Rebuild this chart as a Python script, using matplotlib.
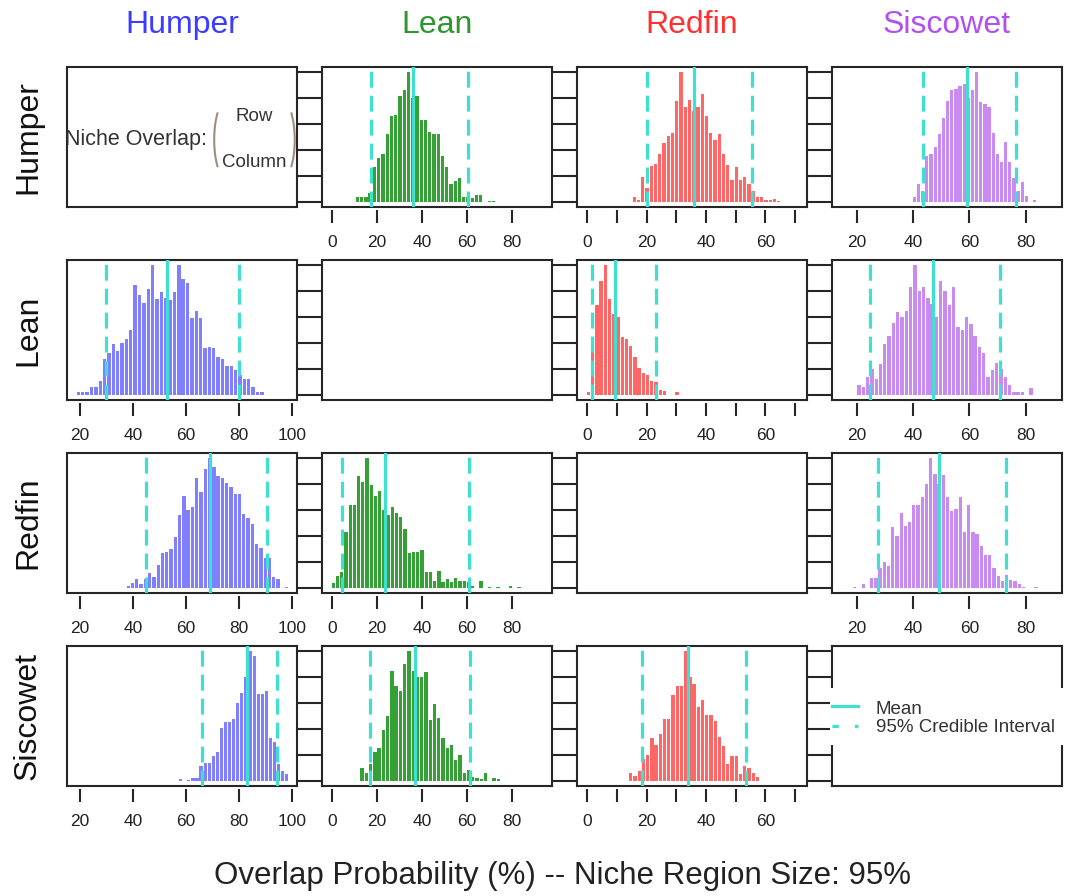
import numpy as np
import matplotlib
matplotlib.use('Agg')
import matplotlib.pyplot as plt
from matplotlib.patches import Arc, Rectangle
from matplotlib.lines import Line2D

plt.rcParams['font.family'] = ['Liberation Sans', 'DejaVu Sans']

species = ['Humper', 'Lean', 'Redfin', 'Siscowet']
title_cols = ['#3c3cff', '#2f962f', '#ff3030', '#b050f0']
bar_cols = ['#7f7fff', '#35a035', '#ff6666', '#c98af2']
ci_col = '#40e0d0'

# x axis of each column (overlap %)
col_xlim = [(15.1, 101.9), (-4.4, 97.7), (-3.4, 74.0), (11.1, 92.9)]
col_ticks = [[20, 40, 60, 80, 100], [0, 20, 40, 60, 80],
             [0, 10, 20, 30, 40, 50, 60, 70], [20, 40, 60, 80]]
col_ticklabels = [['20', '40', '60', '80', '100'], ['0', '20', '40', '60', '80'],
                  ['0', '', '20', '', '40', '', '60', ''], ['20', '40', '60', '80']]

# histogram bars (height relative to tallest bar), first bin centre and bin step
# row species : column species
hum_lean = [0.035, 0.035, 0.035, 0.07, 0.27, 0.34, 0.37, 0.52, 0.66, 0.67, 0.82, 0.86, 1.0,
            0.80, 0.82, 0.63, 0.63, 0.54, 0.52, 0.52, 0.35, 0.27, 0.14, 0.16, 0.18, 0.04,
            0.04, 0.03, 0.05, 0.05, 0, 0.01, 0.01]
hum_lean_bins = (11.3, 1.89)
hum_red = [0.035, 0.015, 0.19, 0.105, 0.28, 0.29, 0.37, 0.45, 0.51, 0.53, 0.78, 1.0, 0.73,
           0.785, 0.7, 0.73, 0.83, 0.66, 0.53, 0.48, 0.52, 0.37, 0.285, 0.17, 0.27, 0.17,
           0.19, 0.14, 0.08, 0.035, 0.035, 0.015, 0.015, 0.02, 0.005]
hum_red_bins = (15.85, 1.43)
hum_sis = [0.035, 0.14, 0.08, 0.35, 0.37, 0.42, 0.52, 0.65, 0.78, 0.86, 0.87, 0.89, 0.91,
           0.8, 0.86, 1.0, 0.77, 0.755, 0.73, 0.53, 0.37, 0.31, 0.46, 0.31, 0.18, 0.08,
           0.15, 0.046, 0, 0.015]
hum_sis_bins = (40.4, 1.476)
lean_hum = [0.025, 0.025, 0.025, 0.057, 0.057, 0.106, 0.275, 0.32, 0.39, 0.34, 0.40, 0.43,
            0.50, 0.85, 0.77, 0.71, 0.82, 1.0, 0.74, 0.79, 0.75, 0.73, 0.79, 1.0, 0.89, 0.86,
            0.59, 0.65, 0.59, 0.36, 0.37, 0.36, 0.29, 0.275, 0.22, 0.22, 0.19, 0.15, 0.12,
            0.12, 0.06, 0.025, 0.025]
lean_hum_bins = (19.4, 1.648)
lean_red = [0.02, 0.36, 0.69, 0.88, 1.0, 0.74, 0.62, 0.60, 0.445, 0.43, 0.38, 0.29, 0.21,
            0.17, 0.15, 0.11, 0.10, 0.04, 0.03, 0, 0, 0.02]
lean_red_bins = (0.45, 1.42)
lean_sis = [0.075, 0.06, 0.14, 0.2, 0.12, 0.24, 0.39, 0.45, 0.555, 0.64, 0.60, 0.65, 0.83,
            1.0, 0.80, 0.83, 0.75, 0.7, 0.60, 0.88, 0.80, 0.69, 0.83, 0.52, 0.50, 0.60, 0.55,
            0.45, 0.37, 0.32, 0.14, 0.19, 0.245, 0.2, 0.14, 0.075, 0.02, 0.02, 0.02, 0, 0.05]
lean_sis_bins = (20.7, 1.53)
red_hum = [0.013, 0.04, 0.065, 0.03, 0.065, 0.115, 0.08, 0.175, 0.27, 0.28, 0.30, 0.39, 0.56,
           0.71, 0.60, 0.62, 0.845, 0.74, 0.915, 1.0, 0.93, 0.86, 0.845, 0.81, 0.78, 0.72,
           0.72, 0.57, 0.54, 0.495, 0.34, 0.31, 0.23, 0.23, 0.08, 0.065, 0, 0.01]
red_hum_bins = (38.2, 1.616)
red_lean = [0.04, 0.09, 0.12, 0.43, 0.64, 0.64, 0.86, 0.82, 1.0, 0.79, 0.71, 0.75, 0.6, 0.56,
            0.62, 0.58, 0.55, 0.45, 0.27, 0.28, 0.28, 0.29, 0.12, 0.12, 0.05, 0.13, 0.046,
            0.065, 0.046, 0.077, 0.05, 0.05, 0.046, 0.013, 0, 0.05, 0, 0.01, 0, 0.01, 0, 0,
            0.015, 0, 0.01]
red_lean_bins = (0.6, 1.875)
red_sis = [0.01, 0, 0.03, 0, 0.077, 0.077, 0.15, 0.2, 0.17, 0.47, 0.40, 0.58, 0.48, 0.51,
           0.64, 0.64, 0.70, 0.80, 1.0, 0.88, 0.8, 0.87, 0.70, 0.59, 0.61, 0.70, 0.43, 0.64,
           0.43, 0.415, 0.32, 0.25, 0.25, 0.15, 0.09, 0.05, 0.1, 0.064, 0.05, 0.03, 0.01, 0,
           0, 0.01]
red_sis_bins = (19.2, 1.5)
sis_hum = [0.013, 0, 0.01, 0.02, 0.025, 0.115, 0.14, 0.14, 0.19, 0.22, 0.41, 0.45, 0.45,
           0.48, 0.60, 0.68, 0.80, 1.0, 0.96, 0.67, 0.67, 0.69, 0.33, 0.3, 0.13, 0.077, 0.05]
sis_hum_bins = (58.0, 1.54)
sis_lean = [0.10, 0.064, 0.13, 0.22, 0.255, 0.395, 0.50, 0.85, 0.73, 0.69, 0.90, 1.0, 0.85,
            0.80, 0.80, 0.84, 0.47, 0.59, 0.485, 0.33, 0.255, 0.275, 0.16, 0.20, 0.064, 0.08,
            0.03, 0.025, 0.013, 0.064, 0, 0.025, 0.013]
sis_lean_bins = (13.4, 1.89)
sis_red = [0.064, 0.04, 0.077, 0.165, 0.20, 0.33, 0.28, 0.36, 0.48, 0.48, 0.66, 0.73, 0.73,
           1.0, 0.8, 0.745, 0.57, 0.62, 0.51, 0.51, 0.46, 0.34, 0.27, 0.13, 0.19, 0.19,
           0.056, 0.115, 0.10, 0.064, 0.03]
sis_red_bins = (14.7, 1.42)

# posterior mean and 95% credible interval of each panel
means = {(0, 1): 35.9, (0, 2): 35.9, (0, 3): 59.2,
         (1, 0): 52.9, (1, 2): 9.4, (1, 3): 46.9,
         (2, 0): 69.1, (2, 1): 23.4, (2, 3): 49.3,
         (3, 0): 82.9, (3, 1): 36.7, (3, 2): 33.9}
cred = {(0, 1): (17.2, 60.6), (0, 2): (20.0, 55.5), (0, 3): (43.3, 76.4),
        (1, 0): (29.7, 80.0), (1, 2): (1.6, 23.3), (1, 3): (24.6, 70.7),
        (2, 0): (44.9, 90.4), (2, 1): (4.7, 60.7), (2, 3): (27.6, 73.1),
        (3, 0): (66.2, 94.2), (3, 1): (17.1, 61.4), (3, 2): (18.5, 53.5)}

hists = {(0, 1): (hum_lean, hum_lean_bins), (0, 2): (hum_red, hum_red_bins),
         (0, 3): (hum_sis, hum_sis_bins), (1, 0): (lean_hum, lean_hum_bins),
         (1, 2): (lean_red, lean_red_bins), (1, 3): (lean_sis, lean_sis_bins),
         (2, 0): (red_hum, red_hum_bins), (2, 1): (red_lean, red_lean_bins),
         (2, 3): (red_sis, red_sis_bins), (3, 0): (sis_hum, sis_hum_bins),
         (3, 1): (sis_lean, sis_lean_bins), (3, 2): (sis_red, sis_red_bins)}

W, H = 1067, 896
fig = plt.figure(figsize=(W / 100, H / 100), dpi=100)

lefts = [67, 322, 577, 832]
tops = [67, 260, 453, 646]
pw, ph = 230, 140
frame = '#262626'

for i in range(4):
    for j in range(4):
        ax = fig.add_axes([lefts[j] / W, 1 - (tops[i] + ph) / H, pw / W, ph / H])
        ax.set_xlim(*col_xlim[j])
        ax.set_ylim(-0.04, 1.04)
        for s in ax.spines.values():
            s.set_linewidth(1.5)
            s.set_color(frame)
        ax.tick_params(axis='x', bottom=False, labelbottom=False)
        if j < 3:
            ax.yaxis.tick_right()
            ax.set_yticks([0, 0.2, 0.4, 0.6, 0.8, 1.0])
            ax.tick_params(axis='y', length=18, width=1.5, color=frame, labelright=False)
        else:
            ax.set_yticks([])

        if (i, j) in hists:
            h, (start, step) = hists[(i, j)]
            x = start + step * np.arange(len(h))
            ax.bar(x, h, width=step * 0.78, color=bar_cols[j], linewidth=0, zorder=2)
            ax.axvline(means[(i, j)], color=ci_col, lw=2.3, zorder=3)
            for c in cred[(i, j)]:
                ax.axvline(c, color=ci_col, lw=2.3, ls=(0, (5, 2.5)), zorder=3)
            sec = ax.secondary_xaxis(-0.02)
            sec.spines['bottom'].set_visible(False)
            sec.set_xticks(col_ticks[j], col_ticklabels[j])
            sec.tick_params(length=9.5, width=1.5, color=frame, pad=9, labelsize=12.5,
                            labelcolor='#222222')

        if i == 0 and j == 0:
            ax.text(0.608, 0.48, 'Niche Overlap:', transform=ax.transAxes, ha='right',
                    va='center', fontsize=15.5, color='#333333', clip_on=True)
            ax.text(0.816, 0.645, 'Row', transform=ax.transAxes, ha='center',
                    va='center', fontsize=13.5, color='#333333')
            ax.text(0.816, 0.32, 'Column', transform=ax.transAxes, ha='center',
                    va='center', fontsize=13.5, color='#333333')
            ax.add_patch(Arc((0.69, 0.48), 0.1, 0.54, theta1=100, theta2=260,
                             transform=ax.transAxes, color='#9c8f80', lw=1.5))
            ax.add_patch(Arc((0.94, 0.48), 0.1, 0.54, theta1=-80, theta2=80,
                             transform=ax.transAxes, color='#9c8f80', lw=1.5))

        if i == 3 and j == 3:
            ax.add_patch(Rectangle((-0.01, 0.293), 1.3, 0.407, transform=ax.transAxes,
                                   facecolor='white', edgecolor='none', zorder=5,
                                   clip_on=False))
            ax.add_line(Line2D([0.0, 0.115], [0.57, 0.57], transform=ax.transAxes,
                               color=ci_col, lw=2.3, zorder=6, clip_on=False))
            ax.add_line(Line2D([0.0, 0.115], [0.43, 0.43], transform=ax.transAxes,
                               color=ci_col, lw=2.3, ls=(0, (2, 5)), zorder=6,
                               clip_on=False))
            ax.text(0.19, 0.545, 'Mean', transform=ax.transAxes, ha='left', va='center',
                    fontsize=13.5, color='#333333', zorder=7, clip_on=False)
            ax.text(0.19, 0.415, '95% Credible Interval', transform=ax.transAxes,
                    ha='left', va='center', fontsize=13.5, color='#333333', zorder=7,
                    clip_on=False)

for j, sp in enumerate(species):
    fig.text((lefts[j] + pw / 2) / W, 1 - 25 / H, sp, ha='center', va='center',
             fontsize=23, color=title_cols[j])
for i, sp in enumerate(species):
    fig.text(28 / W, 1 - (tops[i] + ph / 2) / H, sp, rotation=90, ha='center',
             va='center', fontsize=23, color='#111111')

fig.text(563 / W, 1 - 876 / H, 'Overlap Probability (%) -- Niche Region Size: 95%',
         ha='center', va='center', fontsize=22.5, color='#222222')

fig.savefig('out.png', dpi=100)
